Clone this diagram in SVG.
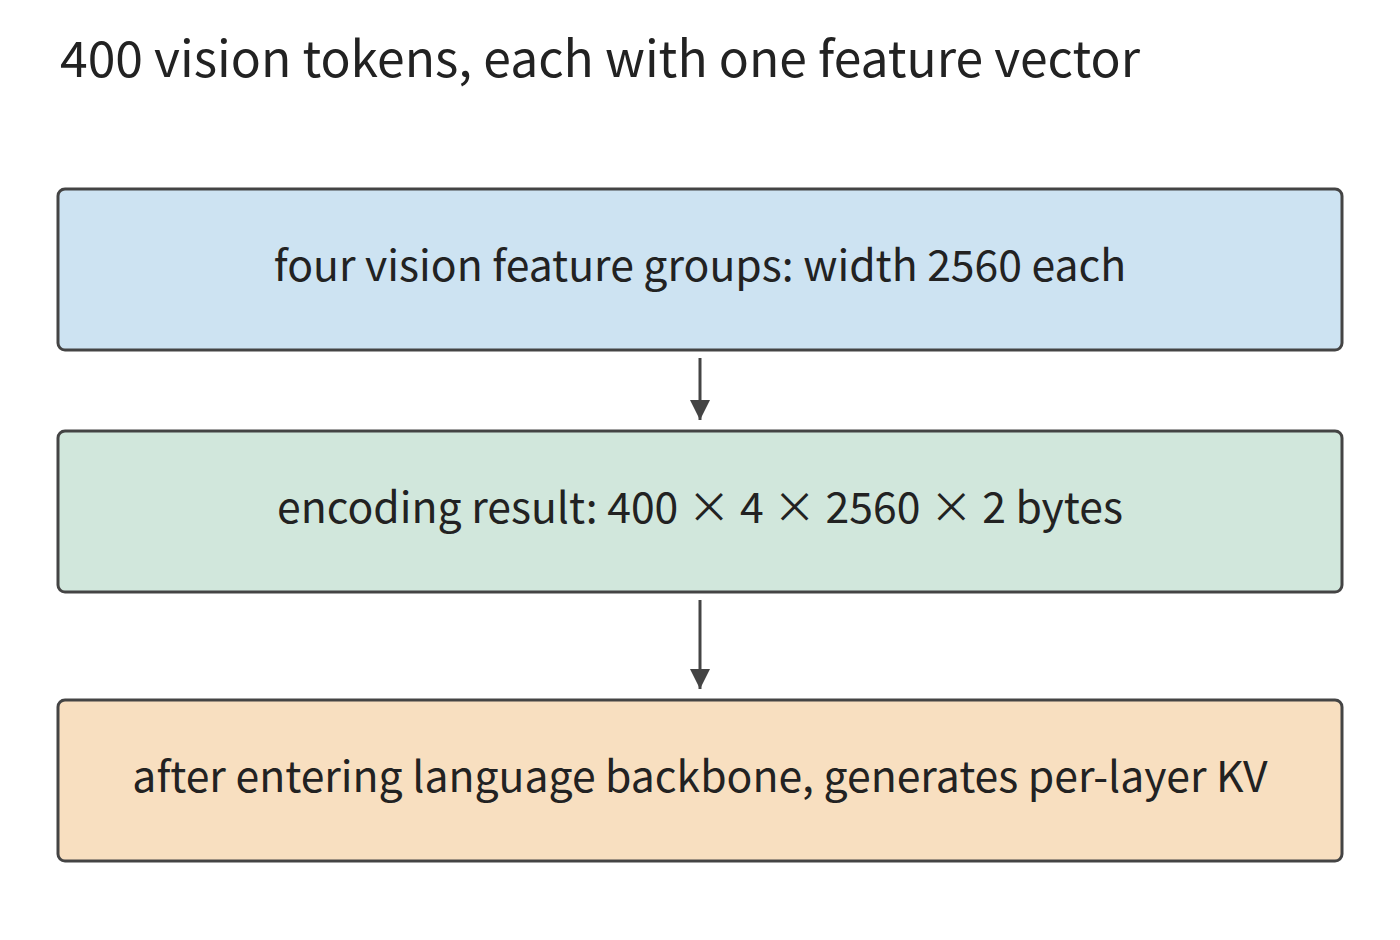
<svg xmlns="http://www.w3.org/2000/svg" width="1400" height="940" viewBox="0 0 1400 940">
<style>
.t{font-family:"Noto Sans CJK SC","Source Sans Pro","Liberation Sans",sans-serif;fill:#222;}
.box{stroke:#444;stroke-width:3;}
.lbl{font-size:42.7px;text-anchor:middle;}
.edge{stroke:#444;stroke-width:3;fill:none;}
</style>
<defs>
<marker id="ah" markerUnits="userSpaceOnUse" markerWidth="22" markerHeight="22" refX="20" refY="10" orient="auto">
<path d="M0,0 L20,10 L0,20 Z" fill="#444"/>
</marker>
</defs>
<rect width="1400" height="940" fill="#fff"/>
<text class="t" x="60" y="77" font-size="49.8">400 vision tokens, each with one feature vector</text>
<g id="n1"><rect class="box" x="58" y="189" width="1284" height="161" rx="7" fill="#cde3f2"/><text class="t lbl" x="700" y="281">four vision feature groups: width 2560 each</text></g>
<g id="n2"><rect class="box" x="58" y="431" width="1284" height="161" rx="7" fill="#d1e7dc"/><text class="t lbl" x="700" y="523">encoding result: 400 × 4 × 2560 × 2 bytes</text></g>
<g id="n3"><rect class="box" x="58" y="700" width="1284" height="161" rx="7" fill="#f8dfc0"/><text class="t lbl" x="700" y="792">after entering language backbone, generates per-layer KV</text></g>
<g id="edges">
<line class="edge" x1="700" y1="358" x2="700" y2="420" marker-end="url(#ah)"/>
<line class="edge" x1="700" y1="600" x2="700" y2="689" marker-end="url(#ah)"/>
</g>
</svg>
